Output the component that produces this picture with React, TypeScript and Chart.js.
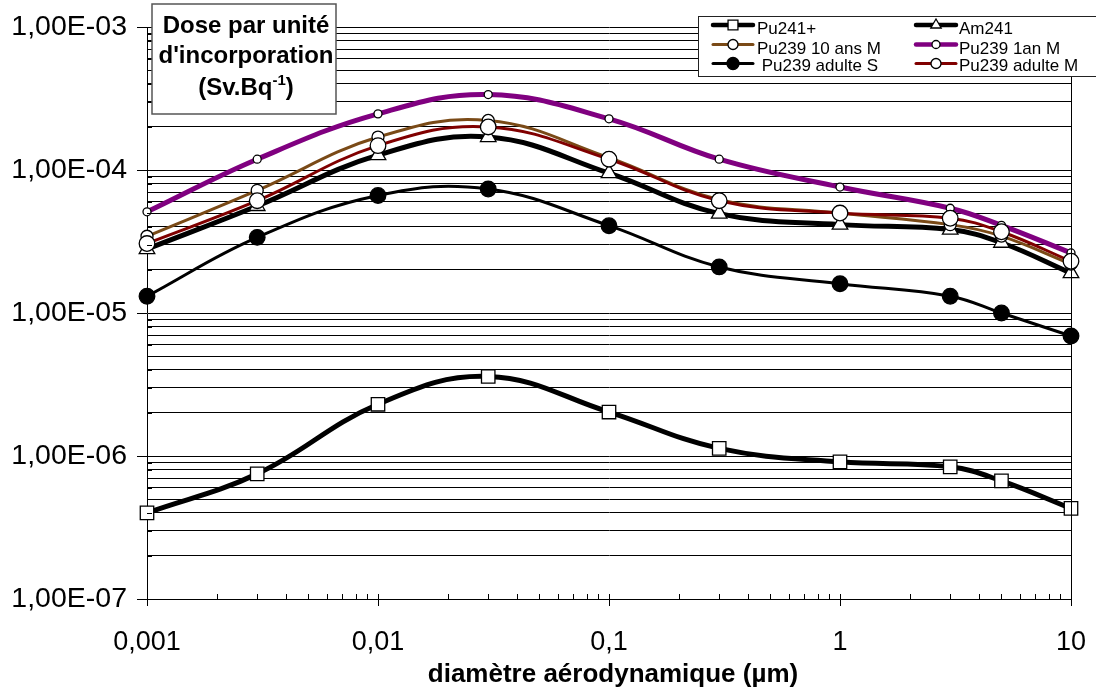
import React, { useEffect, useRef } from 'react';
import { Chart, registerables } from 'chart.js';

Chart.register(...registerables);

// ---------- data ----------
const diameters = [0.001, 0.003, 0.01, 0.03, 0.1, 0.3, 1, 3, 5, 10];

const pu241Plus = [4.0e-7, 7.5e-7, 2.3e-6, 3.6e-6, 2.03e-6, 1.13e-6, 9.1e-7, 8.4e-7, 6.7e-7, 4.3e-7];
const am241 = [2.8e-5, 5.6e-5, 1.27e-4, 1.7e-4, 9.5e-5, 4.95e-5, 4.15e-5, 3.83e-5, 3.1e-5, 1.9e-5];
const pu239Enfant10 = [3.44e-5, 7.2e-5, 1.7e-4, 2.22e-4, 1.22e-4, 6.2e-5, 5.0e-5, 4.15e-5, 3.45e-5, 2.2e-5];
const pu239Enfant1 = [5.1e-5, 1.19e-4, 2.47e-4, 3.37e-4, 2.28e-4, 1.19e-4, 7.6e-5, 5.4e-5, 4.1e-5, 2.63e-5];
const pu239AdulteS = [1.31e-5, 3.38e-5, 6.64e-5, 7.36e-5, 4.08e-5, 2.1e-5, 1.6e-5, 1.31e-5, 1.0e-5, 6.9e-6];
const pu239AdulteM = [3.06e-5, 6.1e-5, 1.48e-4, 2.0e-4, 1.19e-4, 6.1e-5, 5.0e-5, 4.6e-5, 3.7e-5, 2.3e-5];

const seriesLabels = ['Pu241+', 'Am241', 'Pu239 10 ans M', 'Pu239 1an M', ' Pu239 adulte S', 'Pu239 adulte M'];

const xTickValues = [0.001, 0.01, 0.1, 1, 10];
const xTickLabels = ['0,001', '0,01', '0,1', '1', '10'];
const yMajorValues = [1e-7, 1e-6, 1e-5, 1e-4, 1e-3];
const yTickLabels = ['1,00E-07', '1,00E-06', '1,00E-05', '1,00E-04', '1,00E-03'];
const minorMultipliers = [2, 3, 4, 5, 6, 7, 8, 9];

const titleLines = ['Dose par unité', "d'incorporation"];
const titleUnit = '(Sv.Bq';
const titleUnitSup = '-1';
const titleUnitEnd = ')';
const xAxisTitle = 'diamètre aérodynamique (µm)';

const FONT = "'Liberation Sans', Arial, Helvetica, sans-serif";

// ---------- helpers ----------
const isSame = (a: number, b: number) => Math.abs(Math.log10(a) - Math.log10(b)) < 1e-6;

const yGridValues: number[] = [];
yMajorValues.forEach((m, i) => {
  yGridValues.push(m);
  if (i < yMajorValues.length - 1) minorMultipliers.forEach((k) => yGridValues.push(m * k));
});
const xMinorValues: number[] = [];
xTickValues.forEach((m, i) => {
  if (i < xTickValues.length - 1) minorMultipliers.forEach((k) => xMinorValues.push(m * k));
});

type Style = {
  color: string;
  width: number;
  marker: 'rect' | 'triangle' | 'circle';
  radius: number;
  fill: string;
  legendRadius: number;
};

const styles: Style[] = [
  { color: '#000000', width: 5, marker: 'rect', radius: 9.5, fill: '#ffffff', legendRadius: 7 },
  { color: '#000000', width: 5, marker: 'triangle', radius: 9, fill: '#ffffff', legendRadius: 6 },
  { color: '#7a4a17', width: 3, marker: 'circle', radius: 6, fill: '#ffffff', legendRadius: 5 },
  { color: '#800080', width: 5, marker: 'circle', radius: 4, fill: '#ffffff', legendRadius: 4 },
  { color: '#000000', width: 3, marker: 'circle', radius: 7.8, fill: '#000000', legendRadius: 6 },
  { color: '#800000', width: 3, marker: 'circle', radius: 7.8, fill: '#ffffff', legendRadius: 5 },
];

const seriesValues = [pu241Plus, am241, pu239Enfant10, pu239Enfant1, pu239AdulteS, pu239AdulteM];

function drawMarker(ctx: CanvasRenderingContext2D, s: Style, x: number, y: number, r: number) {
  ctx.save();
  ctx.fillStyle = s.fill;
  ctx.strokeStyle = '#000';
  ctx.lineWidth = 1.3;
  ctx.beginPath();
  if (s.marker === 'rect') {
    const h = r * Math.SQRT1_2;
    ctx.rect(x - h, y - h, 2 * h, 2 * h);
  } else if (s.marker === 'triangle') {
    ctx.moveTo(x, y - r);
    ctx.lineTo(x + r * 0.866, y + r * 0.5);
    ctx.lineTo(x - r * 0.866, y + r * 0.5);
    ctx.closePath();
  } else {
    ctx.arc(x, y, r, 0, Math.PI * 2);
  }
  ctx.fill();
  ctx.stroke();
  ctx.restore();
}

const overlayPlugin = {
  id: 'overlay',
  afterDraw(chart: any) {
    const ctx: CanvasRenderingContext2D = chart.ctx;
    const { left, right, top, bottom } = chart.chartArea;
    const xs = chart.scales.x;
    const ys = chart.scales.y;
    const al = (v: number) => Math.round(v) + 0.5;

    ctx.save();
    ctx.strokeStyle = '#000';
    ctx.lineWidth = 1;

    // right border of plot area
    ctx.beginPath();
    ctx.moveTo(al(right), top);
    ctx.lineTo(al(right), bottom);
    ctx.stroke();

    // y ticks
    yGridValues.forEach((v) => {
      const py = al(ys.getPixelForValue(v));
      const major = yMajorValues.some((m) => isSame(m, v));
      ctx.beginPath();
      if (major) {
        ctx.moveTo(left - 10, py);
        ctx.lineTo(left, py);
      } else {
        ctx.moveTo(left, py);
        ctx.lineTo(left + 5, py);
      }
      ctx.stroke();
    });

    // x ticks
    xTickValues.forEach((v) => {
      const px = al(xs.getPixelForValue(v));
      ctx.beginPath();
      ctx.moveTo(px, bottom - 5);
      ctx.lineTo(px, bottom + 7);
      ctx.stroke();
    });
    xMinorValues.forEach((v) => {
      const px = al(xs.getPixelForValue(v));
      ctx.beginPath();
      ctx.moveTo(px, bottom - 5);
      ctx.lineTo(px, bottom);
      ctx.stroke();
    });

    // x axis title
    ctx.fillStyle = '#000';
    ctx.font = `bold 26px ${FONT}`;
    ctx.textAlign = 'center';
    ctx.textBaseline = 'alphabetic';
    ctx.fillText(xAxisTitle, 613, 682);

    // title box
    ctx.fillStyle = '#fff';
    ctx.fillRect(152, 4, 184, 110);
    ctx.strokeStyle = '#555';
    ctx.lineWidth = 1.5;
    ctx.strokeRect(152, 4, 184, 110);
    ctx.fillStyle = '#000';
    ctx.font = `bold 24px ${FONT}`;
    ctx.textAlign = 'center';
    ctx.fillText(titleLines[0], 246, 33);
    ctx.fillText(titleLines[1], 246, 63);
    // third line with superscript
    ctx.font = `bold 24px ${FONT}`;
    const w1 = ctx.measureText(titleUnit).width;
    const w3 = ctx.measureText(titleUnitEnd).width;
    ctx.font = `bold 15px ${FONT}`;
    const w2 = ctx.measureText(titleUnitSup).width;
    const total = w1 + w2 + w3;
    let cx = 246 - total / 2;
    ctx.textAlign = 'left';
    ctx.font = `bold 24px ${FONT}`;
    ctx.fillText(titleUnit, cx, 95);
    cx += w1;
    ctx.font = `bold 15px ${FONT}`;
    ctx.fillText(titleUnitSup, cx, 85);
    cx += w2;
    ctx.font = `bold 24px ${FONT}`;
    ctx.fillText(titleUnitEnd, cx, 95);

    // legend box
    ctx.fillStyle = '#fff';
    ctx.fillRect(698, 16, 410, 60);
    ctx.strokeStyle = '#222';
    ctx.lineWidth = 1;
    ctx.strokeRect(698.5, 16.5, 410, 60);

    const colLine = [713, 916];
    const colText = [757, 959];
    const rowLine = [25, 44.5, 63.5];
    const rowBase = [34, 53.5, 71];
    seriesLabels.forEach((label, i) => {
      const s = styles[i];
      const col = i % 2;
      const row = Math.floor(i / 2);
      const ly = rowLine[row];
      ctx.save();
      ctx.strokeStyle = s.color;
      ctx.lineWidth = s.width === 5 ? 4.5 : 3;
      ctx.lineCap = 'round';
      ctx.beginPath();
      ctx.moveTo(colLine[col], ly);
      ctx.lineTo(colLine[col] + 40, ly);
      ctx.stroke();
      ctx.restore();
      drawMarker(ctx, s, colLine[col] + 20, ly, s.legendRadius);
      ctx.fillStyle = '#000';
      ctx.font = `17px ${FONT}`;
      ctx.textAlign = 'left';
      ctx.textBaseline = 'alphabetic';
      ctx.fillText(label, colText[col], rowBase[row]);
    });

    ctx.restore();
  },
};

export default function App() {
  const canvasRef = useRef<HTMLCanvasElement | null>(null);

  useEffect(() => {
    if (!canvasRef.current) return;
    const datasets = seriesValues
      .map((vals, i) => {
        const s = styles[i];
        return {
          label: seriesLabels[i],
          data: diameters.map((d, j) => ({ x: d, y: vals[j] })),
          borderColor: s.color,
          borderWidth: s.width,
          backgroundColor: s.fill,
          pointStyle: s.marker,
          pointRadius: s.radius,
          pointBackgroundColor: s.fill,
          pointBorderColor: '#000',
          pointBorderWidth: 1.3,
          tension: 0.4,
          borderCapStyle: 'round' as const,
          borderJoinStyle: 'round' as const,
          clip: false as const,
          fill: false,
        };
      })
      .reverse();

    const chart = new Chart(canvasRef.current, {
      type: 'line',
      data: { datasets },
      options: {
        responsive: false,
        animation: false,
        events: [],
        layout: { padding: { top: 27, right: 25, bottom: 0, left: 0 } },
        plugins: { legend: { display: false }, tooltip: { enabled: false } },
        scales: {
          x: {
            type: 'logarithmic',
            min: 0.001,
            max: 10,
            afterBuildTicks: (axis: any) => {
              axis.ticks = xTickValues.map((v) => ({ value: v }));
            },
            afterFit: (axis: any) => {
              axis.height = 89;
              axis.paddingLeft = 0;
              axis.paddingRight = 0;
            },
            grid: { display: false, drawTicks: false },
            border: { display: true, color: '#000', width: 1 },
            ticks: {
              autoSkip: false,
              maxRotation: 0,
              padding: 27,
              color: '#000',
              font: { family: FONT, size: 27 },
              callback: (v: any) => {
                const i = xTickValues.findIndex((m) => isSame(m, Number(v)));
                return i >= 0 ? xTickLabels[i] : '';
              },
            },
          },
          y: {
            type: 'logarithmic',
            min: 1e-7,
            max: 1e-3,
            afterBuildTicks: (axis: any) => {
              axis.ticks = yGridValues.map((v) => ({ value: v }));
            },
            afterFit: (axis: any) => {
              axis.width = 147;
              axis.paddingTop = 0;
              axis.paddingBottom = 0;
            },
            grid: { display: true, color: '#000', lineWidth: 1, drawTicks: false },
            border: { display: true, color: '#000', width: 1 },
            ticks: {
              autoSkip: false,
              padding: 20,
              color: '#000',
              font: { family: FONT, size: 28.5 },
              callback: (v: any) => {
                const i = yMajorValues.findIndex((m) => isSame(m, Number(v)));
                return i >= 0 ? yTickLabels[i] : '';
              },
            },
          },
        },
      },
      plugins: [overlayPlugin],
    });
    return () => chart.destroy();
  }, []);

  return (
    <div style={{ position: 'absolute', left: 0, top: 0, width: 1096, height: 688, background: '#fff' }}>
      <canvas ref={canvasRef} width={1096} height={688} style={{ width: 1096, height: 688, display: 'block' }} />
    </div>
  );
}
